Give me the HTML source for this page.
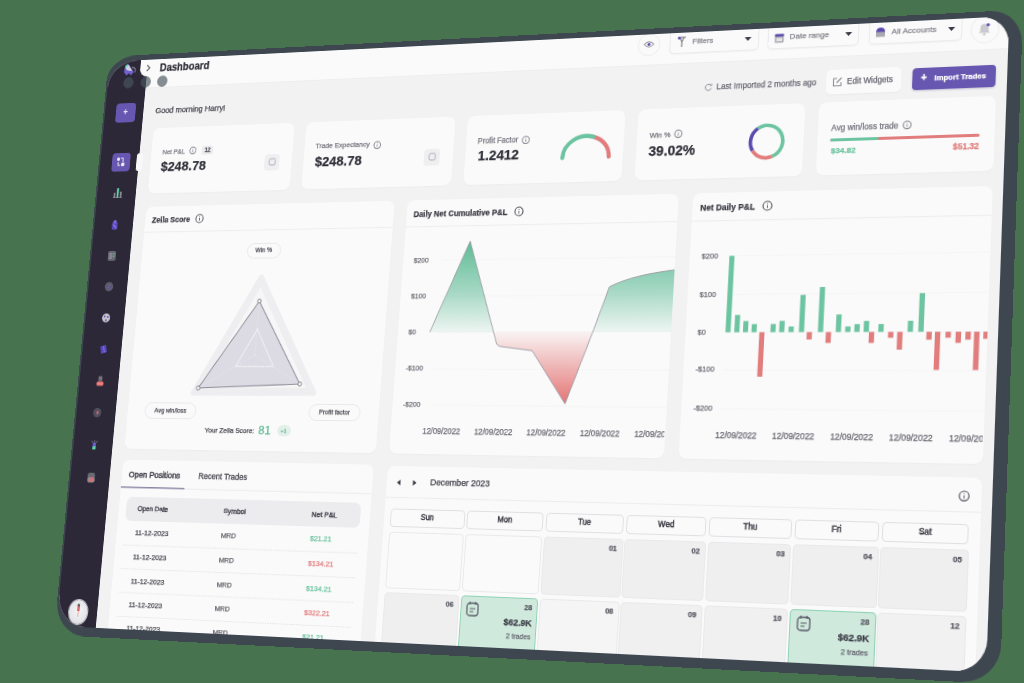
<!DOCTYPE html>
<html><head><meta charset="utf-8"><style>
html,body{margin:0;padding:0;}
body{width:1024px;height:683px;overflow:hidden;background:#48734f;position:relative;font-family:"Liberation Sans",sans-serif;}
.a{position:absolute;}
.t{position:absolute;white-space:nowrap;line-height:1;-webkit-text-stroke:0.25px currentColor;}
#dev{position:absolute;left:0;top:0;width:1000px;height:630px;transform-origin:0 0;transform:matrix3d(0.760604838,-0.0477277634,0,-0.000137516261,-0.0881534887,0.859678904,0,-5.73201023e-05,0,0,1,0,109.9,61.7,0,1);}
#bezel{position:absolute;left:-2px;top:-5.9px;width:1015.3px;height:646px;background:#3e4650;border-radius:37px 31px 36px 38px / 27px 34px 36px 38px;}
#screen{position:absolute;left:0;top:0;width:1000px;height:630px;background:#f2f2f3;border-radius:36px 27px 30px 35px / 30px 27px 30px 35px;overflow:hidden;}
</style></head><body>
<div id="dev"><div id="bezel"></div><div id="screen">
<div class="a" style="left:0.00px;top:0.00px;width:49.30px;height:630.00px;background:#2c2837;border-radius:0px;"></div><div class="a" style="left:49.00px;top:0.00px;width:951.00px;height:32.00px;background:#fafafa;border-radius:0px;box-shadow:0 0.5px 0 #e9e9ec;"></div><div class="a" style="left:40.00px;top:0.00px;width:20.00px;height:19.00px;background:#fafafa;border-radius:0 0 0 9px;"></div><div class="a" style="left:40.00px;top:-10.00px;width:20.00px;height:29.00px;background:#fafafa;border-radius:9px 0 0 9px;"></div><svg class="a" style="left:47px;top:5px" width="7" height="9" viewBox="0 0 7 9"><path d="M1.5 1 L5 4.5 L1.5 8" fill="none" stroke="#55555f" stroke-width="1.2"/></svg><div class="t" style="left:64.80px;top:4.77px;font-size:11.90px;color:#2f2f39;font-weight:700;">Dashboard</div><svg class="a" style="left:17.5px;top:2px" width="18" height="17" viewBox="0 0 18 17"><path d="M2 4 L6 1.5 L9 5 L12 9 L14 11 L11 15 L8 12.5 L5 15 L1.5 11 Z" fill="#7360d0"/><path d="M3 5 L7 3 L10 7.5 L12 10 L7 9.5 L4 8 Z" fill="#d4d4dc"/><path d="M2.5 3.5 L6 1.8 L5.5 5 L3 5.5 Z" fill="#5fe0b0"/><path d="M11 6 Q17 6 15.5 12" fill="none" stroke="#85858f" stroke-width="1.3"/></svg><div class="a" style="left:19.50px;top:18.70px;width:13.2px;height:13.2px;border-radius:50%;background:rgba(72,86,92,0.66)"></div><div class="a" style="left:42.00px;top:18.70px;width:13.2px;height:13.2px;border-radius:50%;background:rgba(72,86,92,0.66)"></div><div class="a" style="left:62.70px;top:18.70px;width:13.2px;height:13.2px;border-radius:50%;background:rgba(72,86,92,0.66)"></div><div class="a" style="left:623.00px;top:-1.50px;width:24.00px;height:24.00px;border-radius:50%;box-sizing:border-box;border:1px solid #ececef;background:#fafafa"></div><svg class="a" style="left:629px;top:6px" width="12" height="9" viewBox="0 0 12 9"><path d="M1 4.5 Q6 -1 11 4.5 Q6 10 1 4.5Z" fill="none" stroke="#8d8d97" stroke-width="1.1"/><circle cx="6" cy="4.5" r="1.6" fill="#5a4cb0"/></svg><div class="a" style="left:962.60px;top:-2.00px;width:28.00px;height:28.00px;border-radius:50%;box-sizing:border-box;border:1px solid #ececef;background:#fafafa"></div><svg class="a" style="left:970px;top:5px" width="13" height="14" viewBox="0 0 13 14"><path d="M6.5 1.5 Q10.5 1.5 10.5 6 L10.5 9 L12 10.5 L1 10.5 L2.5 9 L2.5 6 Q2.5 1.5 6.5 1.5Z" fill="#c9c9d0"/><circle cx="6.5" cy="12" r="1.3" fill="#c9c9d0"/><circle cx="10" cy="2.5" r="1.6" fill="#5a4cb0"/></svg><div class="a" style="left:657.00px;top:-4.00px;width:94.00px;height:25.50px;background:#fafafa;border-radius:5px;box-sizing:border-box;border:1px solid #ebebee;box-shadow:0 1px 1.5px rgba(0,0,0,0.04);"></div><div class="t" style="left:681.30px;top:6.43px;font-size:8.10px;color:#85858e;font-weight:400;">Filters</div><svg class="a" style="left:736.00px;top:8.2px" width="7" height="4" viewBox="0 0 7 4"><path d="M0 0 L7 0 L3.5 4Z" fill="#3a3a44"/></svg><svg class="a" style="left:665px;top:4px" width="10" height="12" viewBox="0 0 10 12"><path d="M1 1 L9 1 M3 1 L5 6 L5 11 M7 1 L5 6" fill="none" stroke="#8f8f98" stroke-width="1.4"/><circle cx="2" cy="1.6" r="1.4" fill="#4b3db0"/></svg><div class="a" style="left:760.00px;top:-4.00px;width:93.00px;height:25.50px;background:#fafafa;border-radius:5px;box-sizing:border-box;border:1px solid #ebebee;box-shadow:0 1px 1.5px rgba(0,0,0,0.04);"></div><div class="t" style="left:782.60px;top:6.43px;font-size:8.10px;color:#85858e;font-weight:400;">Date range</div><svg class="a" style="left:838.80px;top:8.2px" width="7" height="4" viewBox="0 0 7 4"><path d="M0 0 L7 0 L3.5 4Z" fill="#3a3a44"/></svg><svg class="a" style="left:767px;top:4.5px" width="10" height="11" viewBox="0 0 10 11"><rect x="0.5" y="1.5" width="9" height="9" rx="1" fill="#a9a9b0"/><rect x="0.5" y="1.5" width="9" height="2.5" fill="#5a4cb0"/><rect x="2" y="5.5" width="6" height="3.5" fill="#e5e5e8"/></svg><div class="a" style="left:863.00px;top:-4.00px;width:92.00px;height:25.50px;background:#fafafa;border-radius:5px;box-sizing:border-box;border:1px solid #ebebee;box-shadow:0 1px 1.5px rgba(0,0,0,0.04);"></div><div class="t" style="left:885.60px;top:6.43px;font-size:8.10px;color:#85858e;font-weight:400;">All Accounts</div><svg class="a" style="left:941.10px;top:8.2px" width="7" height="4" viewBox="0 0 7 4"><path d="M0 0 L7 0 L3.5 4Z" fill="#3a3a44"/></svg><svg class="a" style="left:869px;top:4px" width="11" height="11" viewBox="0 0 11 11"><path d="M1 6 Q1 1 5.5 1 Q10 1 10 6Z" fill="#5a4cb0"/><rect x="1" y="5.5" width="9" height="5" fill="#a9a9b0"/></svg><div class="t" style="left:64.20px;top:55.35px;font-size:9.35px;color:#3b3b45;font-weight:400;">Good morning Harry!</div><svg class="a" style="left:696px;top:54px" width="9" height="9" viewBox="0 0 9 9"><path d="M7.5 3 A3.2 3.2 0 1 0 7.8 5.5" fill="none" stroke="#8d8d97" stroke-width="1"/><path d="M6 1.5 L7.8 3.2 L8.2 0.8" fill="none" stroke="#8d8d97" stroke-width="0.9"/></svg><div class="t" style="left:709.30px;top:55.13px;font-size:8.27px;color:#6a6a74;font-weight:400;">Last Imported 2 months ago</div><div class="a" style="left:822.00px;top:46.00px;width:75.00px;height:25.00px;background:#fafafa;border-radius:5px;box-shadow:0 1px 2px rgba(0,0,0,0.04);"></div><svg class="a" style="left:828px;top:53px" width="11" height="11" viewBox="0 0 11 11"><path d="M5 2 L1.5 2 L1.5 9.5 L9 9.5 L9 6" fill="none" stroke="#8d8d97" stroke-width="1.1"/><path d="M4.5 6.5 L9.5 1.5" stroke="#8d8d97" stroke-width="1.3"/></svg><div class="t" style="left:843.10px;top:55.39px;font-size:8.16px;color:#6a6a74;font-weight:400;">Edit Widgets</div><div class="a" style="left:908.00px;top:47.70px;width:81.00px;height:22.00px;background:#6757b0;border-radius:4px;box-shadow:0 1px 2px rgba(60,40,120,0.25);"></div><div class="t" style="left:919.30px;transform:translateX(-50%);top:53.20px;font-size:10.00px;color:#ffffff;font-weight:700;">+</div><div class="t" style="left:929.60px;top:54.70px;font-size:7.60px;color:#ffffff;font-weight:700;">Import Trades</div><div class="a" style="left:64.00px;top:79.00px;width:173.90px;height:74.00px;background:#fafafa;border-radius:8px;box-shadow:0 1px 2px rgba(0,0,0,0.025);"></div><div class="a" style="left:252.00px;top:79.00px;width:173.90px;height:74.00px;background:#fafafa;border-radius:8px;box-shadow:0 1px 2px rgba(0,0,0,0.025);"></div><div class="a" style="left:440.00px;top:79.00px;width:173.90px;height:74.00px;background:#fafafa;border-radius:8px;box-shadow:0 1px 2px rgba(0,0,0,0.025);"></div><div class="a" style="left:628.00px;top:79.00px;width:173.90px;height:74.00px;background:#fafafa;border-radius:8px;box-shadow:0 1px 2px rgba(0,0,0,0.025);"></div><div class="a" style="left:816.00px;top:79.00px;width:173.90px;height:74.00px;background:#fafafa;border-radius:8px;box-shadow:0 1px 2px rgba(0,0,0,0.025);"></div><div class="t" style="left:78.00px;top:102.55px;font-size:7.50px;color:#74747e;font-weight:400;">Net P&amp;L</div><svg class="a" style="left:110.60px;top:101.40px" width="9.60" height="9.60" viewBox="-4.80 -4.80 9.60 9.60"><circle r="3.8" fill="none" stroke="#8a8a94" stroke-width="1.15"/><line x1="0" y1="-0.6" x2="0" y2="1.90" stroke="#8a8a94" stroke-width="0.9"/><circle cy="-1.71" r="0.5" fill="#8a8a94"/></svg><div class="a" style="left:127.00px;top:101.30px;width:14.00px;height:9.50px;background:#ececef;border-radius:3px;"></div><div class="t" style="left:134.00px;transform:translateX(-50%);top:102.69px;font-size:6.50px;color:#55555f;font-weight:700;">12</div><div class="t" style="left:77.60px;top:115.43px;font-size:15.50px;color:#2f2f39;font-weight:700;">$248.78</div><div class="a" style="left:205.20px;top:112.70px;width:18.00px;height:18.00px;background:#efeff1;border-radius:4px;"></div><svg class="a" style="left:209.70px;top:117.20px" width="9" height="9" viewBox="0 0 9 9"><rect x="1" y="1" width="7" height="7" rx="1.5" fill="none" stroke="#a5a5ae" stroke-width="0.9"/></svg><div class="t" style="left:265.00px;top:102.29px;font-size:7.98px;color:#74747e;font-weight:400;">Trade Expectancy</div><svg class="a" style="left:333.30px;top:101.80px" width="9.60" height="9.60" viewBox="-4.80 -4.80 9.60 9.60"><circle r="3.8" fill="none" stroke="#8a8a94" stroke-width="1.15"/><line x1="0" y1="-0.6" x2="0" y2="1.90" stroke="#8a8a94" stroke-width="0.9"/><circle cy="-1.71" r="0.5" fill="#8a8a94"/></svg><div class="t" style="left:265.80px;top:115.34px;font-size:15.30px;color:#2f2f39;font-weight:700;">$248.78</div><div class="a" style="left:393.00px;top:112.80px;width:18.00px;height:18.00px;background:#efeff1;border-radius:4px;"></div><svg class="a" style="left:397.50px;top:117.30px" width="9" height="9" viewBox="0 0 9 9"><rect x="1" y="1" width="7" height="7" rx="1.5" fill="none" stroke="#a5a5ae" stroke-width="0.9"/></svg><div class="t" style="left:453.10px;top:101.52px;font-size:8.30px;color:#74747e;font-weight:400;">Profit Factor</div><svg class="a" style="left:501.90px;top:101.60px" width="9.60" height="9.60" viewBox="-4.80 -4.80 9.60 9.60"><circle r="3.8" fill="none" stroke="#8a8a94" stroke-width="1.15"/><line x1="0" y1="-0.6" x2="0" y2="1.90" stroke="#8a8a94" stroke-width="0.9"/><circle cy="-1.71" r="0.5" fill="#8a8a94"/></svg><div class="t" style="left:454.30px;top:113.70px;font-size:15.00px;color:#2f2f39;font-weight:700;">1.2412</div><div class="t" style="left:641.40px;top:103.14px;font-size:7.70px;color:#74747e;font-weight:400;">Win %</div><svg class="a" style="left:666.70px;top:101.20px" width="9.60" height="9.60" viewBox="-4.80 -4.80 9.60 9.60"><circle r="3.8" fill="none" stroke="#8a8a94" stroke-width="1.15"/><line x1="0" y1="-0.6" x2="0" y2="1.90" stroke="#8a8a94" stroke-width="0.9"/><circle cy="-1.71" r="0.5" fill="#8a8a94"/></svg><div class="t" style="left:641.30px;top:115.67px;font-size:14.50px;color:#2f2f39;font-weight:700;">39.02%</div><div class="t" style="left:829.30px;top:101.93px;font-size:8.28px;color:#74747e;font-weight:400;">Avg win/loss trade</div><svg class="a" style="left:899.90px;top:100.10px" width="9.60" height="9.60" viewBox="-4.80 -4.80 9.60 9.60"><circle r="3.8" fill="none" stroke="#8a8a94" stroke-width="1.15"/><line x1="0" y1="-0.6" x2="0" y2="1.90" stroke="#8a8a94" stroke-width="0.9"/><circle cy="-1.71" r="0.5" fill="#8a8a94"/></svg><div class="t" style="left:829.90px;top:124.83px;font-size:8.10px;color:#6cc4a1;font-weight:700;">$34.82</div><div class="t" style="left:975.40px;transform:translateX(-100%);top:124.97px;font-size:8.20px;color:#e27d7d;font-weight:700;">$51.32</div><div class="a" style="left:64.00px;top:168.00px;width:299.00px;height:268.00px;background:#fafafa;border-radius:8px;box-shadow:0 1px 2px rgba(0,0,0,0.025);"></div><div class="a" style="left:378.00px;top:168.00px;width:298.00px;height:268.00px;background:#fafafa;border-radius:8px;box-shadow:0 1px 2px rgba(0,0,0,0.025);"></div><div class="a" style="left:690.50px;top:168.00px;width:299.50px;height:268.00px;background:#fafafa;border-radius:8px;box-shadow:0 1px 2px rgba(0,0,0,0.025);"></div><div class="t" style="left:72.60px;top:178.79px;font-size:8.90px;color:#3a3a44;font-weight:700;">Zella Score</div><svg class="a" style="left:126.20px;top:176.90px" width="11.00" height="11.00" viewBox="-5.50 -5.50 11.00 11.00"><circle r="4.5" fill="none" stroke="#55555f" stroke-width="1.15"/><line x1="0" y1="-0.6" x2="0" y2="2.25" stroke="#55555f" stroke-width="0.9"/><circle cy="-2.02" r="0.5" fill="#55555f"/></svg><div class="t" style="left:386.00px;top:178.72px;font-size:8.67px;color:#3a3a44;font-weight:700;">Daily Net Cumulative P&amp;L</div><svg class="a" style="left:498.80px;top:177.00px" width="11.00" height="11.00" viewBox="-5.50 -5.50 11.00 11.00"><circle r="4.5" fill="none" stroke="#55555f" stroke-width="1.15"/><line x1="0" y1="-0.6" x2="0" y2="2.25" stroke="#55555f" stroke-width="0.9"/><circle cy="-2.02" r="0.5" fill="#55555f"/></svg><div class="t" style="left:699.20px;top:178.95px;font-size:8.62px;color:#3a3a44;font-weight:700;">Net Daily P&amp;L</div><svg class="a" style="left:762.80px;top:177.20px" width="11.00" height="11.00" viewBox="-5.50 -5.50 11.00 11.00"><circle r="4.5" fill="none" stroke="#55555f" stroke-width="1.15"/><line x1="0" y1="-0.6" x2="0" y2="2.25" stroke="#55555f" stroke-width="0.9"/><circle cy="-2.02" r="0.5" fill="#55555f"/></svg><div class="a" style="left:192.50px;top:210.50px;width:41.00px;height:17.00px;background:#fafafa;border-radius:8.5px;box-sizing:border-box;border:1px solid #e8e8eb;"></div><div class="t" style="left:213.00px;transform:translateX(-50%);top:215.42px;font-size:7.00px;color:#4a4a55;font-weight:400;">Win %</div><div class="a" style="left:85.00px;top:385.00px;width:63.00px;height:18.00px;background:#fafafa;border-radius:9.0px;box-sizing:border-box;border:1px solid #e8e8eb;"></div><div class="t" style="left:116.50px;transform:translateX(-50%);top:390.42px;font-size:7.00px;color:#4a4a55;font-weight:400;">Avg win/loss</div><div class="a" style="left:282.00px;top:385.00px;width:60.00px;height:18.00px;background:#fafafa;border-radius:9.0px;box-sizing:border-box;border:1px solid #e8e8eb;"></div><div class="t" style="left:312.00px;transform:translateX(-50%);top:390.42px;font-size:7.00px;color:#4a4a55;font-weight:400;">Profit factor</div><div class="t" style="left:160.20px;top:410.99px;font-size:7.80px;color:#45454f;font-weight:400;">Your Zella Score:</div><div class="t" style="left:224.60px;top:407.23px;font-size:13.10px;color:#5cb892;font-weight:400;">81</div><div class="a" style="left:246.50px;top:408.30px;width:16.00px;height:12.00px;background:#e3efe9;border-radius:6px;"></div><div class="t" style="left:254.40px;transform:translateX(-50%);top:411.16px;font-size:6.00px;color:#5cb892;font-weight:400;">+1</div><div class="t" style="left:390.00px;top:228.60px;font-size:7.60px;color:#6e6e78;font-weight:400;">$200</div><div class="t" style="left:390.00px;top:266.80px;font-size:7.60px;color:#6e6e78;font-weight:400;">$100</div><div class="t" style="left:390.00px;top:304.70px;font-size:7.60px;color:#6e6e78;font-weight:400;">$0</div><div class="t" style="left:390.00px;top:343.40px;font-size:7.60px;color:#6e6e78;font-weight:400;">-$100</div><div class="t" style="left:390.00px;top:381.00px;font-size:7.60px;color:#6e6e78;font-weight:400;">-$200</div><div class="t" style="left:703.50px;top:228.50px;font-size:7.60px;color:#6e6e78;font-weight:400;">$200</div><div class="t" style="left:703.50px;top:267.60px;font-size:7.60px;color:#6e6e78;font-weight:400;">$100</div><div class="t" style="left:703.50px;top:305.50px;font-size:7.60px;color:#6e6e78;font-weight:400;">$0</div><div class="t" style="left:703.50px;top:343.20px;font-size:7.60px;color:#6e6e78;font-weight:400;">-$100</div><div class="t" style="left:703.50px;top:382.00px;font-size:7.60px;color:#6e6e78;font-weight:400;">-$200</div><div class="a" style="left:378px;top:168px;width:296.50px;height:268px;overflow:hidden"><div class="t" style="left:57.00px;top:239.86px;font-size:8.4px;color:#6a6a74;transform:translateX(-50%)">12/09/2022</div><div class="t" style="left:114.40px;top:239.86px;font-size:8.4px;color:#6a6a74;transform:translateX(-50%)">12/09/2022</div><div class="t" style="left:171.80px;top:239.86px;font-size:8.4px;color:#6a6a74;transform:translateX(-50%)">12/09/2022</div><div class="t" style="left:229.20px;top:239.86px;font-size:8.4px;color:#6a6a74;transform:translateX(-50%)">12/09/2022</div><div class="t" style="left:286.60px;top:239.86px;font-size:8.4px;color:#6a6a74;transform:translateX(-50%)">12/09/2022</div></div><div class="a" style="left:690.5px;top:168px;width:298.00px;height:268px;overflow:hidden"><div class="t" style="left:57.80px;top:240.46px;font-size:8.4px;color:#6a6a74;transform:translateX(-50%)">12/09/2022</div><div class="t" style="left:115.30px;top:240.46px;font-size:8.4px;color:#6a6a74;transform:translateX(-50%)">12/09/2022</div><div class="t" style="left:172.90px;top:240.46px;font-size:8.4px;color:#6a6a74;transform:translateX(-50%)">12/09/2022</div><div class="t" style="left:230.30px;top:240.46px;font-size:8.4px;color:#6a6a74;transform:translateX(-50%)">12/09/2022</div><div class="t" style="left:287.70px;top:240.46px;font-size:8.4px;color:#6a6a74;transform:translateX(-50%)">12/09/2022</div></div><div class="a" style="left:64.00px;top:448.00px;width:298.00px;height:200.00px;background:#fafafa;border-radius:8px;box-shadow:0 1px 2px rgba(0,0,0,0.025);"></div><div class="a" style="left:378.00px;top:449.00px;width:612.00px;height:200.00px;background:#fafafa;border-radius:8px;box-shadow:0 1px 2px rgba(0,0,0,0.025);"></div><div class="t" style="left:72.50px;top:459.58px;font-size:9.29px;color:#3a3a44;font-weight:400;-webkit-text-stroke:0.45px currentColor;">Open Positions</div><div class="t" style="left:157.60px;top:459.94px;font-size:9.00px;color:#4a4a55;font-weight:400;-webkit-text-stroke:0.35px currentColor;">Recent Trades</div><div class="a" style="left:73.00px;top:488.00px;width:278.00px;height:25.50px;background:#ececee;border-radius:7px;"></div><div class="t" style="left:87.30px;top:497.37px;font-size:7.65px;color:#4a4a55;font-weight:400;-webkit-text-stroke:0.45px currentColor;">Open Date</div><div class="t" style="left:191.20px;top:497.19px;font-size:7.98px;color:#4a4a55;font-weight:400;-webkit-text-stroke:0.45px currentColor;">Symbol</div><div class="t" style="left:295.10px;top:497.53px;font-size:7.90px;color:#4a4a55;font-weight:400;-webkit-text-stroke:0.45px currentColor;">Net P&amp;L</div><div class="t" style="left:86.70px;top:522.83px;font-size:8.09px;color:#45454f;font-weight:400;">11-12-2023</div><div class="t" style="left:190.50px;top:522.93px;font-size:7.90px;color:#5c5c66;font-weight:400;">MRD</div><div class="t" style="left:295.30px;top:522.82px;font-size:8.11px;color:#6cc4a1;font-weight:400;">$21.21</div><div class="t" style="left:86.70px;top:548.83px;font-size:8.09px;color:#45454f;font-weight:400;">11-12-2023</div><div class="t" style="left:190.50px;top:548.93px;font-size:7.90px;color:#5c5c66;font-weight:400;">MRD</div><div class="t" style="left:295.30px;top:548.82px;font-size:8.11px;color:#e27d7d;font-weight:400;">$134.21</div><div class="t" style="left:86.70px;top:574.63px;font-size:8.09px;color:#45454f;font-weight:400;">11-12-2023</div><div class="t" style="left:190.50px;top:574.73px;font-size:7.90px;color:#5c5c66;font-weight:400;">MRD</div><div class="t" style="left:295.30px;top:574.62px;font-size:8.11px;color:#6cc4a1;font-weight:400;">$134.21</div><div class="t" style="left:86.70px;top:600.33px;font-size:8.09px;color:#45454f;font-weight:400;">11-12-2023</div><div class="t" style="left:190.50px;top:600.43px;font-size:7.90px;color:#5c5c66;font-weight:400;">MRD</div><div class="t" style="left:295.30px;top:600.32px;font-size:8.11px;color:#e27d7d;font-weight:400;">$322.21</div><div class="t" style="left:86.70px;top:625.13px;font-size:8.09px;color:#45454f;font-weight:400;">11-12-2023</div><div class="t" style="left:190.50px;top:625.23px;font-size:7.90px;color:#5c5c66;font-weight:400;">MRD</div><div class="t" style="left:295.30px;top:625.12px;font-size:8.11px;color:#6cc4a1;font-weight:400;">$21.21</div><svg class="a" style="left:388px;top:461.5px" width="25" height="8" viewBox="0 0 25 8"><path d="M1.5 4 L5.5 1 L5.5 7Z" fill="#3a3a44"/><path d="M23.5 4 L19.5 1 L19.5 7Z" fill="#3a3a44"/></svg><div class="t" style="left:426.70px;top:461.19px;font-size:9.28px;color:#3b3b45;font-weight:400;">December 2023</div><svg class="a" style="left:968.40px;top:461.40px" width="11.20" height="11.20" viewBox="-5.60 -5.60 11.20 11.20"><circle r="4.6" fill="none" stroke="#55555f" stroke-width="1.15"/><line x1="0" y1="-0.6" x2="0" y2="2.30" stroke="#55555f" stroke-width="0.9"/><circle cy="-2.07" r="0.5" fill="#55555f"/></svg><div class="a" style="left:385.00px;top:493.00px;width:82.50px;height:18.50px;background:#fafafa;border-radius:4px;box-sizing:border-box;border:1px solid #e0e0e4;"></div><div class="t" style="left:426.25px;transform:translateX(-50%);top:498.17px;font-size:8.20px;color:#3a3a44;font-weight:400;-webkit-text-stroke:0.45px currentColor;">Sun</div><div class="a" style="left:470.30px;top:493.00px;width:82.50px;height:18.50px;background:#fafafa;border-radius:4px;box-sizing:border-box;border:1px solid #e0e0e4;"></div><div class="t" style="left:511.55px;transform:translateX(-50%);top:498.17px;font-size:8.20px;color:#3a3a44;font-weight:400;-webkit-text-stroke:0.45px currentColor;">Mon</div><div class="a" style="left:555.60px;top:493.00px;width:82.50px;height:18.50px;background:#fafafa;border-radius:4px;box-sizing:border-box;border:1px solid #e0e0e4;"></div><div class="t" style="left:596.85px;transform:translateX(-50%);top:498.17px;font-size:8.20px;color:#3a3a44;font-weight:400;-webkit-text-stroke:0.45px currentColor;">Tue</div><div class="a" style="left:640.90px;top:493.00px;width:82.50px;height:18.50px;background:#fafafa;border-radius:4px;box-sizing:border-box;border:1px solid #e0e0e4;"></div><div class="t" style="left:682.15px;transform:translateX(-50%);top:498.17px;font-size:8.20px;color:#3a3a44;font-weight:400;-webkit-text-stroke:0.45px currentColor;">Wed</div><div class="a" style="left:726.20px;top:493.00px;width:82.50px;height:18.50px;background:#fafafa;border-radius:4px;box-sizing:border-box;border:1px solid #e0e0e4;"></div><div class="t" style="left:767.45px;transform:translateX(-50%);top:498.17px;font-size:8.20px;color:#3a3a44;font-weight:400;-webkit-text-stroke:0.45px currentColor;">Thu</div><div class="a" style="left:811.50px;top:493.00px;width:82.50px;height:18.50px;background:#fafafa;border-radius:4px;box-sizing:border-box;border:1px solid #e0e0e4;"></div><div class="t" style="left:852.75px;transform:translateX(-50%);top:498.17px;font-size:8.20px;color:#3a3a44;font-weight:400;-webkit-text-stroke:0.45px currentColor;">Fri</div><div class="a" style="left:896.80px;top:493.00px;width:82.50px;height:18.50px;background:#fafafa;border-radius:4px;box-sizing:border-box;border:1px solid #e0e0e4;"></div><div class="t" style="left:938.05px;transform:translateX(-50%);top:498.17px;font-size:8.20px;color:#3a3a44;font-weight:400;-webkit-text-stroke:0.45px currentColor;">Sat</div><div class="a" style="left:384.50px;top:516.50px;width:83.50px;height:58.00px;background:#fafafa;border-radius:4px;box-sizing:border-box;border:1px solid #e9e9ec;"></div><div class="a" style="left:469.80px;top:516.50px;width:83.50px;height:58.00px;background:#fafafa;border-radius:4px;box-sizing:border-box;border:1px solid #e9e9ec;"></div><div class="a" style="left:555.10px;top:516.50px;width:83.50px;height:58.00px;background:#efeff0;border-radius:4px;box-sizing:border-box;border:1px solid #e9e9ec;"></div><div class="t" style="left:632.60px;transform:translateX(-100%);top:523.30px;font-size:7.60px;color:#55555f;font-weight:700;">01</div><div class="a" style="left:640.40px;top:516.50px;width:83.50px;height:58.00px;background:#efeff0;border-radius:4px;box-sizing:border-box;border:1px solid #e9e9ec;"></div><div class="t" style="left:717.90px;transform:translateX(-100%);top:523.30px;font-size:7.60px;color:#55555f;font-weight:700;">02</div><div class="a" style="left:725.70px;top:516.50px;width:83.50px;height:58.00px;background:#efeff0;border-radius:4px;box-sizing:border-box;border:1px solid #e9e9ec;"></div><div class="t" style="left:803.20px;transform:translateX(-100%);top:523.30px;font-size:7.60px;color:#55555f;font-weight:700;">03</div><div class="a" style="left:811.00px;top:516.50px;width:83.50px;height:58.00px;background:#efeff0;border-radius:4px;box-sizing:border-box;border:1px solid #e9e9ec;"></div><div class="t" style="left:888.50px;transform:translateX(-100%);top:523.30px;font-size:7.60px;color:#55555f;font-weight:700;">04</div><div class="a" style="left:896.30px;top:516.50px;width:83.50px;height:58.00px;background:#efeff0;border-radius:4px;box-sizing:border-box;border:1px solid #e9e9ec;"></div><div class="t" style="left:973.80px;transform:translateX(-100%);top:523.30px;font-size:7.60px;color:#55555f;font-weight:700;">05</div><div class="a" style="left:384.50px;top:578.50px;width:83.50px;height:58.00px;background:#efeff0;border-radius:4px;box-sizing:border-box;border:1px solid #e9e9ec;"></div><div class="t" style="left:462.00px;transform:translateX(-100%);top:585.30px;font-size:7.60px;color:#55555f;font-weight:700;">06</div><div class="a" style="left:469.80px;top:578.50px;width:83.50px;height:58.00px;background:#cfe9dd;border-radius:4px;box-sizing:border-box;border:1px solid #8fd3b5;"></div><div class="t" style="left:547.30px;transform:translateX(-100%);top:585.30px;font-size:7.60px;color:#55555f;font-weight:700;">28</div><div class="t" style="left:547.80px;transform:translateX(-100%);top:599.74px;font-size:9.37px;color:#3a3a44;font-weight:700;">$62.9K</div><div class="t" style="left:547.30px;transform:translateX(-100%);top:613.69px;font-size:7.25px;color:#6a6a74;font-weight:400;">2 trades</div><svg class="a" style="left:476.30px;top:583.5px" width="14" height="16" viewBox="0 0 14 16"><rect x="1" y="2.5" width="12" height="12.5" rx="3" fill="none" stroke="#5f5f6a" stroke-width="1.3"/><path d="M4 1 L4 4 M10 1 L10 4 M4 8 L10 8 M4 11 L8 11" stroke="#5f5f6a" stroke-width="1.2"/></svg><div class="a" style="left:555.10px;top:578.50px;width:83.50px;height:58.00px;background:#f5f5f6;border-radius:4px;box-sizing:border-box;border:1px solid #e9e9ec;"></div><div class="t" style="left:632.60px;transform:translateX(-100%);top:585.30px;font-size:7.60px;color:#55555f;font-weight:700;">08</div><div class="a" style="left:640.40px;top:578.50px;width:83.50px;height:58.00px;background:#f0f0f1;border-radius:4px;box-sizing:border-box;border:1px solid #e9e9ec;"></div><div class="t" style="left:717.90px;transform:translateX(-100%);top:585.30px;font-size:7.60px;color:#55555f;font-weight:700;">09</div><div class="a" style="left:725.70px;top:578.50px;width:83.50px;height:58.00px;background:#f0f0f1;border-radius:4px;box-sizing:border-box;border:1px solid #e9e9ec;"></div><div class="t" style="left:803.20px;transform:translateX(-100%);top:585.30px;font-size:7.60px;color:#55555f;font-weight:700;">10</div><div class="a" style="left:811.00px;top:578.50px;width:83.50px;height:58.00px;background:#cfe9dd;border-radius:4px;box-sizing:border-box;border:1px solid #8fd3b5;"></div><div class="t" style="left:888.50px;transform:translateX(-100%);top:585.30px;font-size:7.60px;color:#55555f;font-weight:700;">28</div><div class="t" style="left:889.00px;transform:translateX(-100%);top:599.74px;font-size:9.37px;color:#3a3a44;font-weight:700;">$62.9K</div><div class="t" style="left:888.50px;transform:translateX(-100%);top:613.69px;font-size:7.25px;color:#6a6a74;font-weight:400;">2 trades</div><svg class="a" style="left:817.50px;top:583.5px" width="14" height="16" viewBox="0 0 14 16"><rect x="1" y="2.5" width="12" height="12.5" rx="3" fill="none" stroke="#5f5f6a" stroke-width="1.3"/><path d="M4 1 L4 4 M10 1 L10 4 M4 8 L10 8 M4 11 L8 11" stroke="#5f5f6a" stroke-width="1.2"/></svg><div class="a" style="left:896.30px;top:578.50px;width:83.50px;height:58.00px;background:#f1f1f2;border-radius:4px;box-sizing:border-box;border:1px solid #e9e9ec;"></div><div class="t" style="left:973.80px;transform:translateX(-100%);top:585.30px;font-size:7.60px;color:#55555f;font-weight:700;">12</div><div class="a" style="left:14.00px;top:48.50px;width:25.00px;height:22.00px;background:#6757b0;border-radius:4px;"></div><div class="t" style="left:26.40px;transform:translateX(-50%);top:54.47px;font-size:9.50px;color:#e8e6f5;font-weight:700;">+</div><div class="a" style="left:14.70px;top:105.50px;width:23.30px;height:21.70px;background:#6757b0;border-radius:4px;"></div><svg class="a" style="left:20.3px;top:110.3px" width="12" height="12" viewBox="0 0 12 12"><circle cx="3" cy="3" r="2" fill="#f2f2f6"/><circle cx="9" cy="9" r="2.2" fill="#f2f2f6"/><path d="M3 6 L3 10 L6 10 M9 6 L9 2 L6 2" stroke="#f2f2f6" stroke-width="1.1" fill="none"/></svg><div class="a" style="left:45.50px;top:106.50px;width:8.00px;height:20.30px;background:#f8f8f9;border-radius:3px;"></div><svg class="a" style="left:19.80px;top:145.40px" width="12" height="12" viewBox="0 0 12 12"><rect x="1" y="6" width="2.2" height="6" fill="#8a8a95"/><rect x="4.8" y="1" width="2.4" height="11" fill="#5fd0a8"/><rect x="8.8" y="5" width="2.2" height="7" fill="#8a8a95"/><rect x="0" y="11.3" width="12" height="0.9" fill="#8a8a95"/></svg><svg class="a" style="left:19.80px;top:180.50px" width="12" height="12" viewBox="0 0 12 12"><rect x="2.5" y="3" width="7" height="9" rx="2" fill="#5a4ab8"/><circle cx="6" cy="3" r="2" fill="#7b68e0"/><path d="M4 6 L8 10" stroke="#8f80ee" stroke-width="1.2"/></svg><svg class="a" style="left:19.80px;top:215.50px" width="12" height="12" viewBox="0 0 12 12"><rect x="1" y="1" width="10" height="11" rx="2" fill="#66666f"/><rect x="2.5" y="3" width="4" height="7" fill="#85858e"/><circle cx="8.5" cy="4" r="0.9" fill="#5fd0a8"/><circle cx="8.5" cy="7" r="0.9" fill="#5fd0a8"/></svg><svg class="a" style="left:19.80px;top:251.20px" width="12" height="12" viewBox="0 0 12 12"><circle cx="6" cy="6" r="5.3" fill="#5b5b68"/><circle cx="6.5" cy="4" r="1" fill="#6a5ad0"/><circle cx="5" cy="7" r="1" fill="#6a5ad0"/><circle cx="7.5" cy="8" r="0.9" fill="#6a5ad0"/></svg><svg class="a" style="left:19.80px;top:285.50px" width="12" height="12" viewBox="0 0 12 12"><circle cx="6" cy="6" r="5" fill="#c4c4cc"/><circle cx="4" cy="4.5" r="1.1" fill="#5a4ab8"/><circle cx="8" cy="5" r="1.1" fill="#5a4ab8"/><circle cx="6" cy="8.5" r="1.1" fill="#5a4ab8"/></svg><svg class="a" style="left:19.80px;top:320.50px" width="12" height="12" viewBox="0 0 12 12"><path d="M2 3 L9 1 L11 9 L4 11 Z" fill="#5a48c0"/><path d="M6 2 L8 10" stroke="#a89cf0" stroke-width="1.2" stroke-dasharray="1 1"/></svg><svg class="a" style="left:19.80px;top:355.80px" width="12" height="12" viewBox="0 0 12 12"><rect x="3.5" y="0.5" width="5" height="6" rx="1.5" fill="#6a6a76"/><circle cx="5" cy="3" r="0.7" fill="#e07070"/><circle cx="7" cy="3" r="0.7" fill="#e07070"/><rect x="1.5" y="6.5" width="9" height="5" rx="2" fill="#e46e6e"/><circle cx="4.5" cy="9" r="0.8" fill="#f6c0c0"/><circle cx="7.5" cy="9" r="0.8" fill="#f6c0c0"/></svg><svg class="a" style="left:19.80px;top:390.90px" width="12" height="12" viewBox="0 0 12 12"><circle cx="6" cy="6" r="5.2" fill="#4f4f5e"/><path d="M5 4 L8 5 L6 9 Z" fill="#e56a6a"/></svg><svg class="a" style="left:19.80px;top:426.40px" width="12" height="12" viewBox="0 0 12 12"><path d="M2 2 L4 4 M10 2 L8 4 M6 1 L6 4" stroke="#77778a" stroke-width="1"/><rect x="4" y="4" width="4" height="4" fill="#6a5ad0"/><rect x="4" y="8" width="4" height="3.5" fill="#5fd0a8"/></svg><svg class="a" style="left:19.80px;top:462.00px" width="12" height="12" viewBox="0 0 12 12"><rect x="1.5" y="1" width="9" height="10.5" rx="2.5" fill="#6b6b76"/><rect x="1.5" y="6" width="9" height="5.5" rx="2" fill="#8a8a95"/><path d="M3.5 10.5 L4.5 7 L5.5 10.5 M6.5 10.5 L7.5 7 L8.5 10.5" stroke="#ec6b6b" stroke-width="1.1" fill="none"/></svg><div class="a" style="left:14px;top:600.5px;width:23px;height:26px;border-radius:50%;background:radial-gradient(circle at 50% 45%,#f4f4f6 0,#e6e6ea 60%,#cfcfd4 100%);box-shadow:0 0 0 1px #bdbdc3"></div><svg class="a" style="left:19px;top:604px" width="13" height="18" viewBox="0 0 13 18"><path d="M5 2 L8 2 L8 9 L5 9Z" fill="#e06a6a"/><circle cx="6.5" cy="2.5" r="1.6" fill="#555"/><path d="M6.5 9 L6.5 15" stroke="#e08080" stroke-width="0.8"/></svg>
<svg class="a" style="left:0;top:0" width="1000" height="630" viewBox="0 0 1000 630">
<defs>
<linearGradient id="gg" x1="0" y1="212" x2="0" y2="308.9" gradientUnits="userSpaceOnUse"><stop offset="0" stop-color="#5dbb95" stop-opacity="1"/><stop offset="0.55" stop-color="#5dbb95" stop-opacity="0.55"/><stop offset="1" stop-color="#5dbb95" stop-opacity="0.08"/></linearGradient>
<linearGradient id="rg" x1="0" y1="308.9" x2="0" y2="383" gradientUnits="userSpaceOnUse"><stop offset="0" stop-color="#e36c6c" stop-opacity="0.05"/><stop offset="1" stop-color="#e36c6c" stop-opacity="0.95"/></linearGradient>
<clipPath id="above"><rect x="378" y="150" width="298" height="158.89999999999998"/></clipPath>
<clipPath id="below"><rect x="378" y="308.9" width="298" height="100"/></clipPath>
<clipPath id="card2"><rect x="378" y="168" width="298" height="268"/></clipPath>
<clipPath id="card3"><rect x="690.5" y="168" width="299.5" height="268"/></clipPath>
</defs><path d="M580.97 105.87 A25.2 22.3 0 0 1 598.80 127.20" stroke="#e27d7d" stroke-width="4.4" fill="none" stroke-linecap="round"/><path d="M548.40 127.20 A25.2 22.3 0 0 1 580.97 105.87" stroke="#6cc4a1" stroke-width="4.4" fill="none" stroke-linecap="round"/><path d="M754.68 103.30 A16.6 16.6 0 1 1 770.42 132.29" stroke="#6cc4a1" stroke-width="3.7" fill="none"/><path d="M770.42 132.29 A16.6 16.6 0 0 1 750.12 125.70" stroke="#e27d7d" stroke-width="3.7" fill="none"/><path d="M750.12 125.70 A16.6 16.6 0 0 1 754.68 103.30" stroke="#5b4bae" stroke-width="3.7" fill="none"/><line x1="830.5" y1="117.5" x2="974" y2="117.5" stroke="#e27d7d" stroke-width="3.2" stroke-linecap="round"/><line x1="830.5" y1="117.5" x2="875.6" y2="117.5" stroke="#6cc4a1" stroke-width="3.2" stroke-linecap="round"/><line x1="64" y1="196.7" x2="363" y2="196.7" stroke="#ececef" stroke-width="1"/><line x1="378" y1="196.7" x2="676" y2="196.7" stroke="#ececef" stroke-width="1"/><line x1="690.5" y1="196.7" x2="990" y2="196.7" stroke="#ececef" stroke-width="1"/><path d="M213 248.5 L142.2 374.6 L286.2 373.4 Z" fill="#eeeef0" stroke="#eeeef0" stroke-width="6" stroke-linejoin="round"/><path d="M213 259.5 L151.7 369.1 L276.7 367.9 Z" fill="#f6f6f7"/><path d="M213 274.5 L148 369 L269 364 Z" fill="#dcdbe3" stroke="#8d8c98" stroke-width="1.1" stroke-linejoin="round"/><path d="M213.5 305.3 L191 345.5 L236.2 345.4 Z" fill="none" stroke="#fbfbfd" stroke-width="1.5" stroke-dasharray="0.9 0.9"/><path d="M213 274.5 L213 333 M148 369 L213 333 M269 364 L213 333" fill="none" stroke="#eeeef1" stroke-width="0.8" stroke-dasharray="1 1.5"/><circle cx="213" cy="274.5" r="2.2" fill="#f2f2f4" stroke="#77767f" stroke-width="0.9"/><circle cx="148" cy="369" r="2.2" fill="#f2f2f4" stroke="#77767f" stroke-width="0.9"/><circle cx="269" cy="364" r="2.2" fill="#f2f2f4" stroke="#77767f" stroke-width="0.9"/><line x1="422" y1="232.7" x2="676" y2="232.7" stroke="#eeeef0" stroke-width="0.8" stroke-dasharray="1.5 1.5"/><line x1="422" y1="270.9" x2="676" y2="270.9" stroke="#eeeef0" stroke-width="0.8" stroke-dasharray="1.5 1.5"/><line x1="422" y1="308.8" x2="676" y2="308.8" stroke="#eeeef0" stroke-width="0.8" stroke-dasharray="1.5 1.5"/><line x1="422" y1="347.5" x2="676" y2="347.5" stroke="#eeeef0" stroke-width="0.8" stroke-dasharray="1.5 1.5"/><line x1="422" y1="385.1" x2="676" y2="385.1" stroke="#eeeef0" stroke-width="0.8" stroke-dasharray="1.5 1.5"/><line x1="732" y1="232.6" x2="990" y2="232.6" stroke="#eeeef0" stroke-width="0.8" stroke-dasharray="1.5 1.5"/><line x1="732" y1="271.7" x2="990" y2="271.7" stroke="#eeeef0" stroke-width="0.8" stroke-dasharray="1.5 1.5"/><line x1="732" y1="309.6" x2="990" y2="309.6" stroke="#eeeef0" stroke-width="0.8" stroke-dasharray="1.5 1.5"/><line x1="732" y1="347.3" x2="990" y2="347.3" stroke="#eeeef0" stroke-width="0.8" stroke-dasharray="1.5 1.5"/><line x1="732" y1="386.1" x2="990" y2="386.1" stroke="#eeeef0" stroke-width="0.8" stroke-dasharray="1.5 1.5"/><g clip-path="url(#card2)"><path d="M414 308.9 L452.4 212.9 L489.8 321.5 C492 323.5 494 324 497 324.2 L529.1 328.2 L568.3 382.5 L593.2 309.3 L608.1 262.8 C625 254 650 249 676 246 L700 244 L700 308.9 L414 308.9 Z" fill="url(#gg)" clip-path="url(#above)"/><path d="M414 308.9 L452.4 212.9 L489.8 321.5 C492 323.5 494 324 497 324.2 L529.1 328.2 L568.3 382.5 L593.2 309.3 L608.1 262.8 C625 254 650 249 676 246 L700 244 L700 308.9 L414 308.9 Z" fill="url(#rg)" clip-path="url(#below)"/><path d="M414 308.9 L452.4 212.9 L489.8 321.5 C492 323.5 494 324 497 324.2 L529.1 328.2 L568.3 382.5 L593.2 309.3 L608.1 262.8 C625 254 650 249 676 246 L700 244" fill="none" stroke="#9a9aa3" stroke-width="0.9"/></g><g clip-path="url(#card3)"><rect x="732.20" y="232.60" width="5.2" height="77.00" fill="#6cc4a1"/><rect x="741.20" y="292.28" width="5.2" height="17.33" fill="#6cc4a1"/><rect x="750.00" y="298.44" width="5.2" height="11.17" fill="#6cc4a1"/><rect x="758.70" y="301.52" width="5.2" height="8.09" fill="#6cc4a1"/><rect x="766.80" y="309.60" width="5.2" height="44.28" fill="#e27d7d"/><rect x="777.90" y="301.52" width="5.2" height="8.09" fill="#6cc4a1"/><rect x="786.70" y="298.44" width="5.2" height="11.17" fill="#6cc4a1"/><rect x="796.10" y="304.02" width="5.2" height="5.58" fill="#6cc4a1"/><rect x="806.50" y="272.64" width="5.2" height="36.96" fill="#6cc4a1"/><rect x="814.50" y="309.60" width="5.2" height="7.32" fill="#e27d7d"/><rect x="825.50" y="264.94" width="5.2" height="44.66" fill="#6cc4a1"/><rect x="833.50" y="309.60" width="5.2" height="10.78" fill="#e27d7d"/><rect x="843.20" y="292.28" width="5.2" height="17.33" fill="#6cc4a1"/><rect x="852.50" y="304.21" width="5.2" height="5.39" fill="#6cc4a1"/><rect x="861.50" y="301.90" width="5.2" height="7.70" fill="#6cc4a1"/><rect x="870.60" y="298.82" width="5.2" height="10.78" fill="#6cc4a1"/><rect x="876.00" y="309.60" width="5.2" height="10.78" fill="#e27d7d"/><rect x="885.00" y="301.90" width="5.2" height="7.70" fill="#6cc4a1"/><rect x="894.70" y="309.60" width="5.2" height="5.78" fill="#e27d7d"/><rect x="903.60" y="309.60" width="5.2" height="17.33" fill="#e27d7d"/><rect x="913.50" y="298.82" width="5.2" height="10.78" fill="#6cc4a1"/><rect x="923.80" y="271.87" width="5.2" height="37.73" fill="#6cc4a1"/><rect x="931.80" y="309.60" width="5.2" height="7.70" fill="#e27d7d"/><rect x="940.00" y="309.60" width="5.2" height="36.96" fill="#e27d7d"/><rect x="950.10" y="309.60" width="5.2" height="5.78" fill="#e27d7d"/><rect x="959.80" y="309.60" width="5.2" height="10.78" fill="#e27d7d"/><rect x="969.10" y="309.60" width="5.2" height="7.70" fill="#e27d7d"/><rect x="977.30" y="309.60" width="5.2" height="36.96" fill="#e27d7d"/><rect x="986.10" y="309.60" width="5.2" height="6.93" fill="#e27d7d"/></g><line x1="64" y1="478.3" x2="362" y2="478.3" stroke="#ebebee" stroke-width="1"/><line x1="64" y1="477.8" x2="142" y2="477.8" stroke="#8a86a4" stroke-width="1.5"/><line x1="73" y1="540.2" x2="351" y2="540.2" stroke="#dcdce0" stroke-width="0.9" stroke-dasharray="1 1"/><line x1="73" y1="565.6" x2="351" y2="565.6" stroke="#dcdce0" stroke-width="0.9" stroke-dasharray="1 1"/><line x1="73" y1="591.0" x2="351" y2="591.0" stroke="#dcdce0" stroke-width="0.9" stroke-dasharray="1 1"/><line x1="73" y1="616.5" x2="351" y2="616.5" stroke="#dcdce0" stroke-width="0.9" stroke-dasharray="1 1"/><line x1="378" y1="481.6" x2="990" y2="481.6" stroke="#ececef" stroke-width="1"/></svg>
</div></div>
</body></html>
